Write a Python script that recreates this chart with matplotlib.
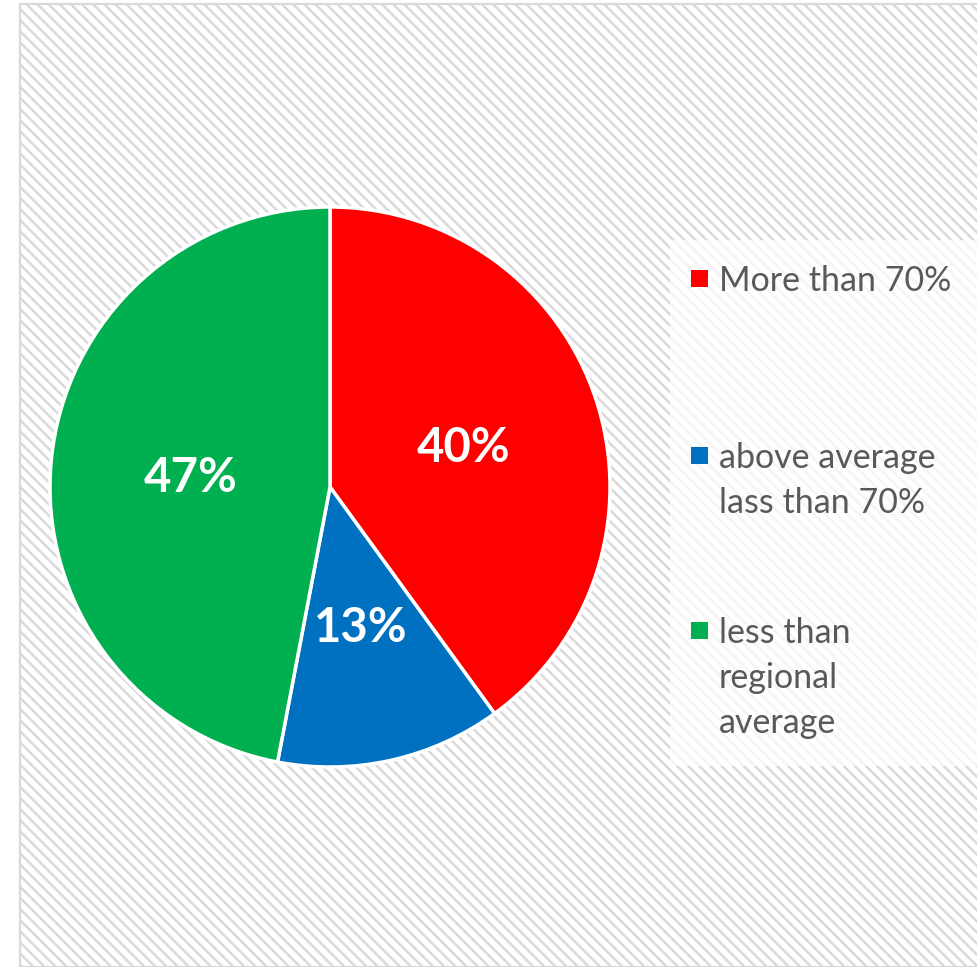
import matplotlib
matplotlib.use("Agg")
import matplotlib.pyplot as plt
from matplotlib.patches import Rectangle

# Share of areas by coverage level
labels = ["More than 70%", "above average\nlass than 70%", "less than\nregional\naverage"]
values = [40, 13, 47]
colors = ["#FF0000", "#0070C0", "#00B050"]

plt.rcParams["hatch.linewidth"] = 1.8
plt.rcParams["hatch.color"] = "#e2e2e2"

W, H = 978, 967
fig = plt.figure(figsize=(W / 100, H / 100), dpi=100)
fig.patch.set_facecolor("white")

# Chart area with diagonal pattern fill and a thin gray border
bg = Rectangle((20 / W, 0), 1.0, 1 - 4 / H, transform=fig.transFigure,
               facecolor="white", edgecolor="#d9d9d9", linewidth=1.6,
               hatch="\\\\\\", zorder=-5)
fig.patches.append(bg)

# Pie axes
cx, cy, r = 330, 487, 280
ax = fig.add_axes([(cx - r) / W, 1 - (cy + r) / H, 2 * r / W, 2 * r / H])
ax.set_zorder(2)
ax.patch.set_visible(False)
ax.axis("off")
wedges, texts, autotexts = ax.pie(
    values, colors=colors, startangle=90, counterclock=False, radius=1.0,
    autopct="%d%%", pctdistance=0.5,
    wedgeprops=dict(edgecolor="white", linewidth=2.5),
    textprops=dict(color="white", fontsize=34, fontweight="bold", family="Lato"))
ax.set_aspect("auto")
ax.set_xlim(-1, 1)
ax.set_ylim(-1, 1)
for t in autotexts:
    x, y = t.get_position()
    t.set_position((x, y - 0.015))

# Legend panel
leg_bg = Rectangle((670 / W, 1 - 766 / H), (W - 670) / W, (766 - 240) / H,
                   transform=fig.transFigure, facecolor="white", alpha=0.75,
                   edgecolor="none", zorder=1)
fig.patches.append(leg_bg)

first_line_y = [278, 455, 630]
line_h = 45
for lab, col, y0 in zip(labels, colors, first_line_y):
    fig.patches.append(Rectangle((691 / W, 1 - (y0 + 8.5) / H), 17 / W, 17 / H,
                                 transform=fig.transFigure, facecolor=col,
                                 edgecolor="none", zorder=2))
    for i, line in enumerate(lab.split("\n")):
        fig.text(719 / W, 1 - (y0 + i * line_h) / H, line, ha="left",
                 va="center_baseline", color="#595959", fontsize=24.5,
                 family="Lato", zorder=3)

fig.savefig("out.png", dpi=100)
